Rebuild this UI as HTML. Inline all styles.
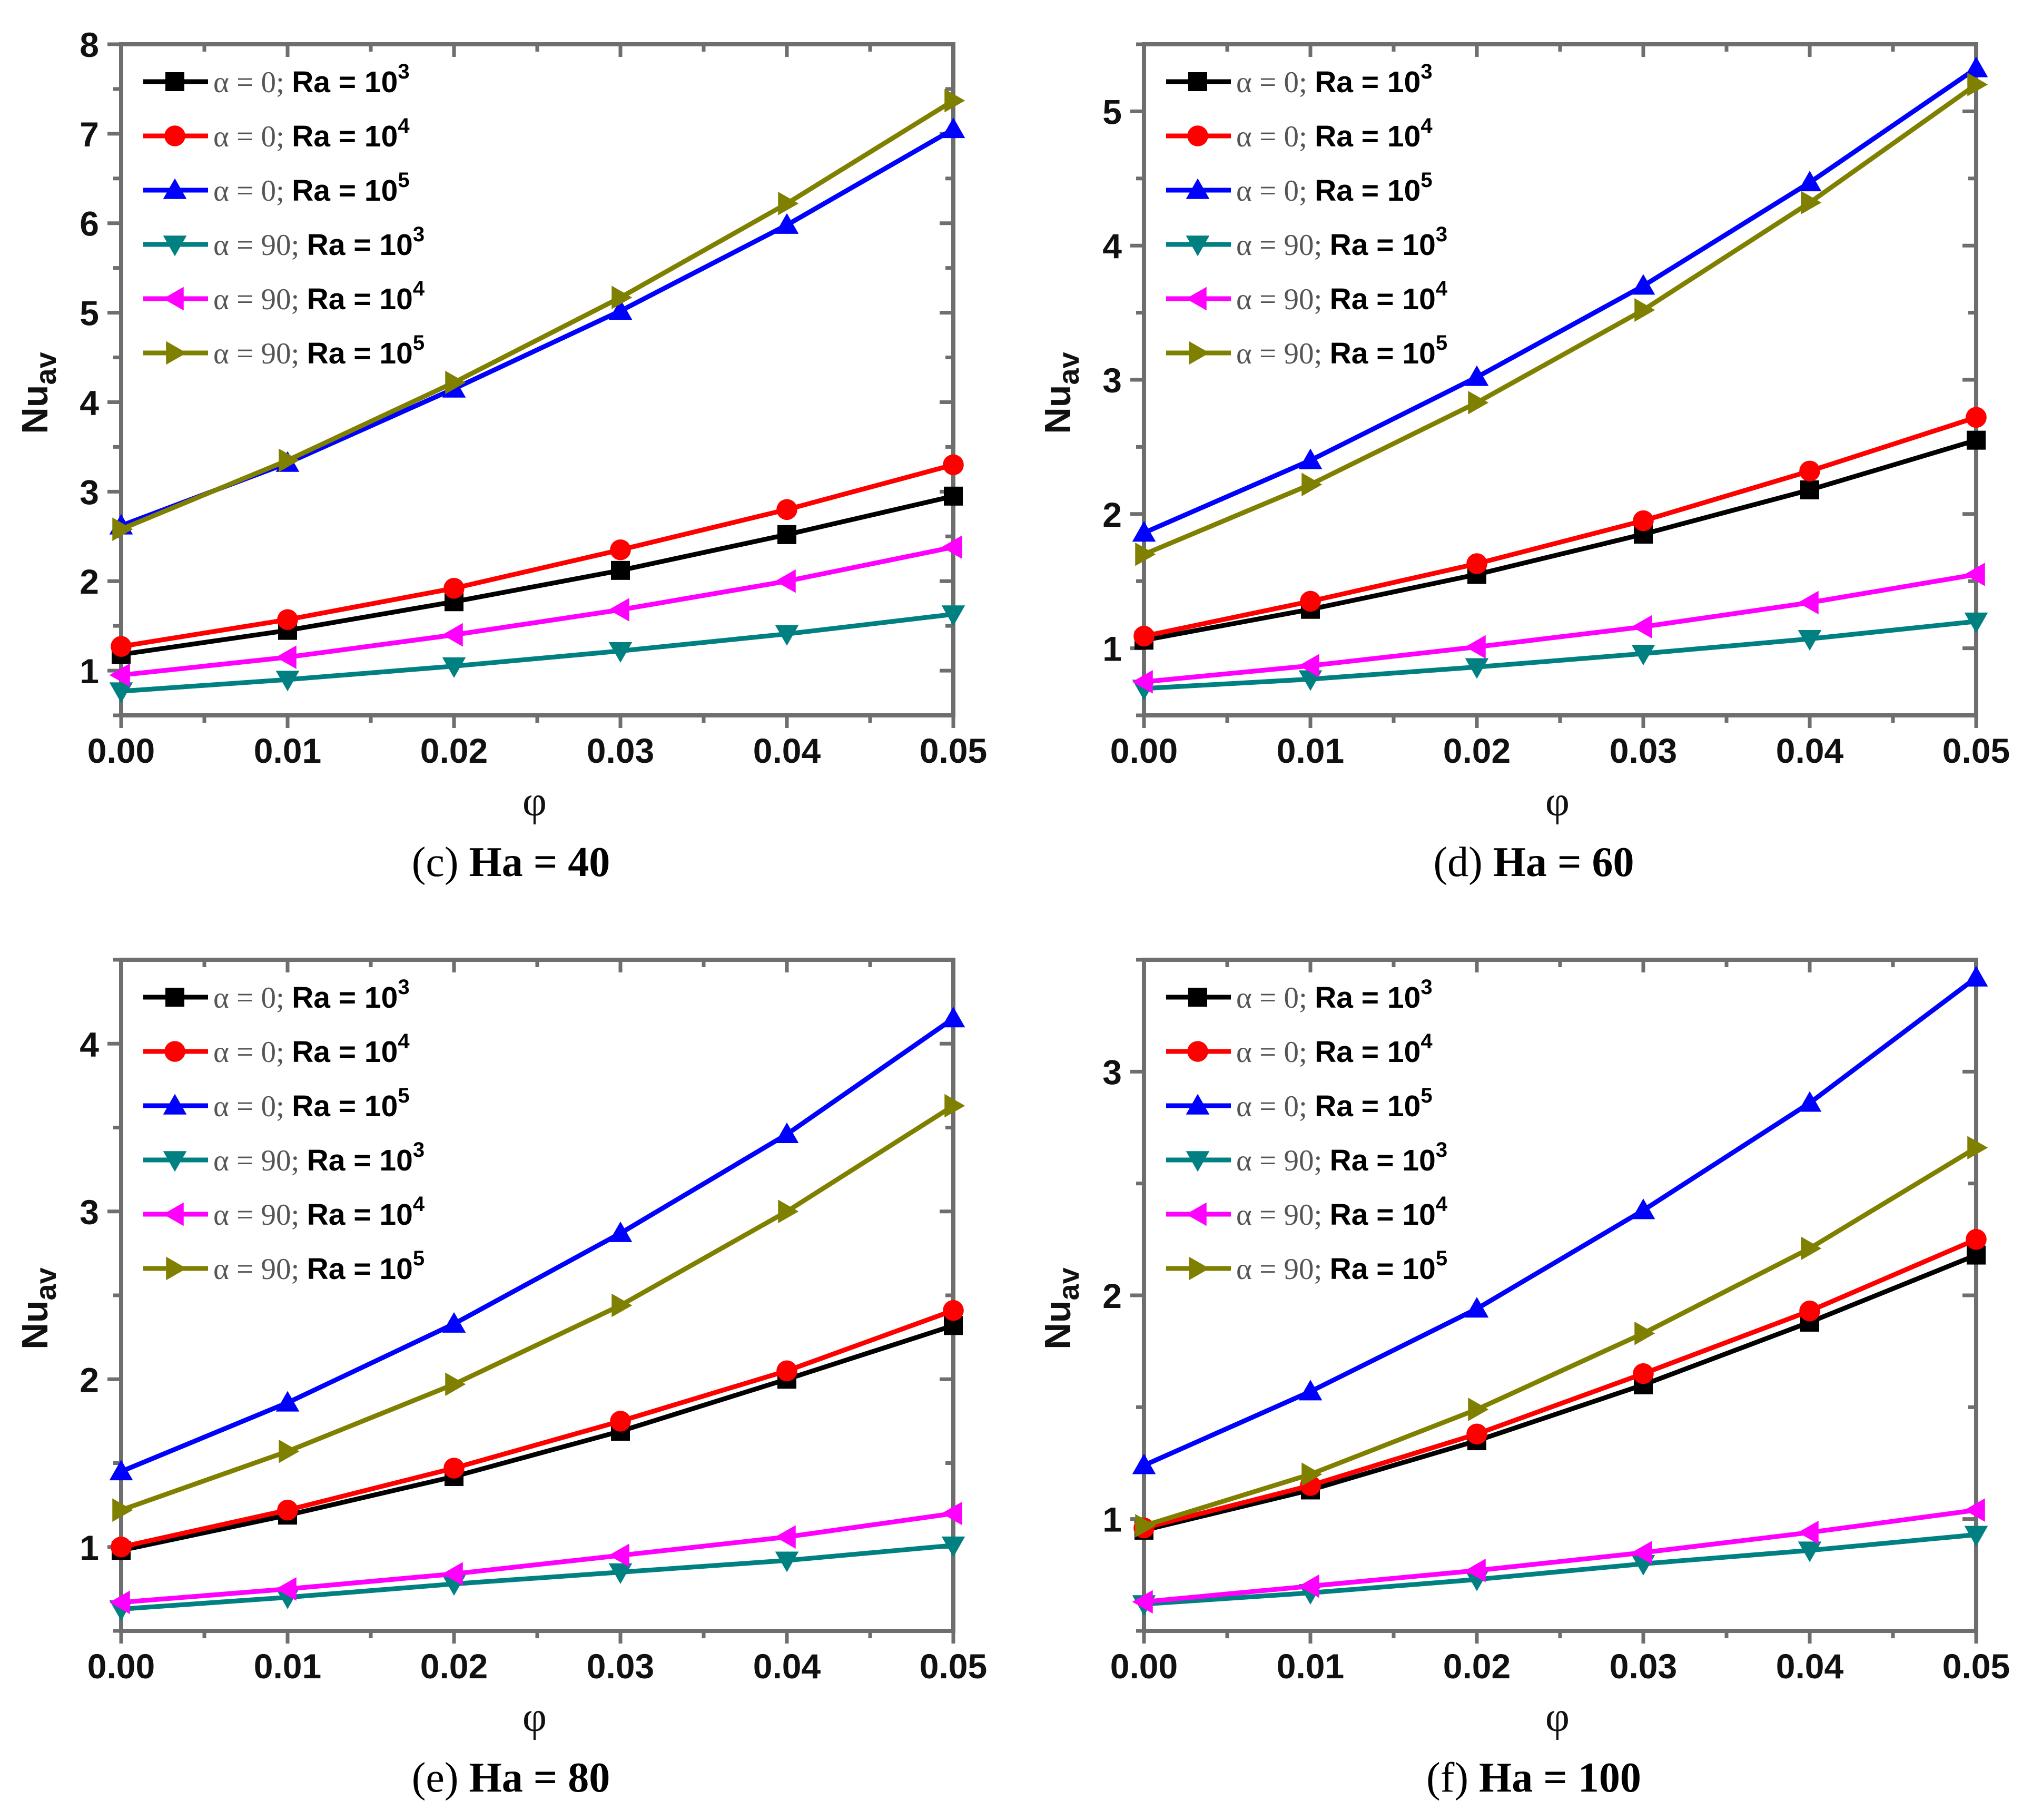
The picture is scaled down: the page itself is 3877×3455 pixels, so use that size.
<!DOCTYPE html>
<html><head><meta charset="utf-8">
<style>
html,body{margin:0;padding:0;background:#fff;}
svg{display:block;}
</style></head>
<body>
<svg id="fig" width="3877" height="3455" viewBox="0 0 3877 3455" xmlns="http://www.w3.org/2000/svg"></svg>
<script>
const xTicks = [0, 0.01, 0.02, 0.03, 0.04, 0.05];
const xTickLabels = ["0.00","0.01","0.02","0.03","0.04","0.05"];
const seriesNames = ["a0-ra3","a0-ra4","a0-ra5","a90-ra3","a90-ra4","a90-ra5"];
const legendAlpha = ["α = 0; ","α = 0; ","α = 0; ","α = 90; ","α = 90; ","α = 90; "];
const legendExp = ["3","4","5","3","4","5"];
const colors = ["#000000","#ff0000","#0000ff","#008080","#ff00ff","#808000"];
const markers = ["square","circle","up","down","left","right"];
const captionsLetter = ["(c)","(d)","(e)","(f)"];
const captionsHa = ["Ha = 40","Ha = 60","Ha = 80","Ha = 100"];
const yRanges = [[0.5,8],[0.5,5.5],[0.5,4.5],[0.5,3.5]];
const yTicksC = [1,2,3,4,5,6,7,8];
const yTicksD = [1,2,3,4,5];
const yTicksE = [1,2,3,4];
const yTicksF = [1,2,3];
// Ha = 40
const c_a0_ra3 = [1.18,1.45,1.77,2.12,2.52,2.95];
const c_a0_ra4 = [1.27,1.57,1.92,2.35,2.80,3.30];
const c_a0_ra5 = [2.62,3.32,4.15,5.02,5.98,7.05];
const c_a90_ra3 = [0.77,0.90,1.05,1.22,1.41,1.63];
const c_a90_ra4 = [0.95,1.15,1.40,1.68,2.00,2.38];
const c_a90_ra5 = [2.58,3.35,4.22,5.17,6.22,7.37];
// Ha = 60
const d_a0_ra3 = [1.06,1.29,1.55,1.85,2.18,2.55];
const d_a0_ra4 = [1.09,1.35,1.63,1.95,2.32,2.72];
const d_a0_ra5 = [1.86,2.40,3.02,3.70,4.47,5.32];
const d_a90_ra3 = [0.70,0.77,0.86,0.96,1.07,1.20];
const d_a90_ra4 = [0.75,0.87,1.01,1.16,1.34,1.55];
const d_a90_ra5 = [1.70,2.22,2.83,3.52,4.32,5.20];
// Ha = 80
const e_a0_ra3 = [0.98,1.19,1.42,1.69,2.00,2.32];
const e_a0_ra4 = [1.00,1.22,1.47,1.75,2.05,2.41];
const e_a0_ra5 = [1.45,1.86,2.33,2.87,3.46,4.15];
const e_a90_ra3 = [0.63,0.70,0.78,0.85,0.92,1.01];
const e_a90_ra4 = [0.67,0.75,0.84,0.95,1.06,1.20];
const e_a90_ra5 = [1.22,1.57,1.97,2.44,3.00,3.63];
// Ha = 100
const f_a0_ra3 = [0.95,1.13,1.35,1.60,1.88,2.18];
const f_a0_ra4 = [0.96,1.15,1.38,1.65,1.93,2.25];
const f_a0_ra5 = [1.24,1.57,1.94,2.38,2.86,3.42];
const f_a90_ra3 = [0.62,0.67,0.73,0.80,0.86,0.93];
const f_a90_ra4 = [0.63,0.70,0.77,0.85,0.94,1.04];
const f_a90_ra5 = [0.97,1.20,1.49,1.83,2.21,2.66];

const panelData = [
  [c_a0_ra3,c_a0_ra4,c_a0_ra5,c_a90_ra3,c_a90_ra4,c_a90_ra5],
  [d_a0_ra3,d_a0_ra4,d_a0_ra5,d_a90_ra3,d_a90_ra4,d_a90_ra5],
  [e_a0_ra3,e_a0_ra4,e_a0_ra5,e_a90_ra3,e_a90_ra4,e_a90_ra5],
  [f_a0_ra3,f_a0_ra4,f_a0_ra5,f_a90_ra3,f_a90_ra4,f_a90_ra5]
];
const panelYTicks = [yTicksC,yTicksD,yTicksE,yTicksF];

const NS = "http://www.w3.org/2000/svg";
const svg = document.getElementById("fig");
function mk(tag, attrs, parent){
  const e = document.createElementNS(NS, tag);
  for (const k in attrs) e.setAttribute(k, attrs[k]);
  (parent||svg).appendChild(e);
  return e;
}
function marker(g, type, cx, cy, col, s){
  let e;
  if (type==="square") e = mk("rect",{x:cx-s/2,y:cy-s/2,width:s,height:s,fill:col},g);
  else if (type==="circle") e = mk("circle",{cx:cx,cy:cy,r:s*0.55,fill:col},g);
  else {
    const h = s*0.62; let pts;
    if (type==="up") pts=[[cx,cy-h],[cx-h,cy+h*0.75],[cx+h,cy+h*0.75]];
    if (type==="down") pts=[[cx,cy+h],[cx-h,cy-h*0.75],[cx+h,cy-h*0.75]];
    if (type==="left") pts=[[cx-h,cy],[cx+h*0.75,cy-h],[cx+h*0.75,cy+h]];
    if (type==="right") pts=[[cx+h,cy],[cx-h*0.75,cy-h],[cx-h*0.75,cy+h]];
    e = mk("polygon",{points:pts.map(p=>p.join(",")).join(" "),fill:col},g);
  }
  return e;
}
const panelLetters = ["c","d","e","f"];
const lefts = [230,2172,230,2172];
const rights = [1810,3752,1810,3752];
const tops = [84,84,1822,1822];
const PH = 1274;

for (let p=0;p<4;p++){
  const L=lefts[p], R=rights[p], T=tops[p], B=T+PH;
  const [y0,y1]=yRanges[p];
  const sx = v => L + (v-xTicks[0])/(xTicks[xTicks.length-1]-xTicks[0])*(R-L);
  const sy = v => B - (v-y0)/(y1-y0)*(B-T);
  const g = mk("g",{});
  
  
  const axc="#6e6e6e";
  for (let i=0;i<xTicks.length;i++){
    const x=sx(xTicks[i]);
    const t = mk("line",{x1:x,y1:B,x2:x,y2:B+24,stroke:axc,"stroke-width":7},g);
    
    
    mk("line",{x1:x,y1:T,x2:x,y2:T+24,stroke:axc,"stroke-width":7},g);
    const lb = mk("text",{x:x,y:B+90,"text-anchor":"middle","font-family":"Liberation Sans, sans-serif","font-weight":"bold","font-size":66,fill:"#111"},g);
    lb.textContent = xTickLabels[i];
    
    
    if (i<xTicks.length-1){
      const xm = sx((xTicks[i]+xTicks[i+1])/2);
      mk("line",{x1:xm,y1:B,x2:xm,y2:B+14,stroke:axc,"stroke-width":7},g);
      mk("line",{x1:xm,y1:T,x2:xm,y2:T+14,stroke:axc,"stroke-width":7},g);
    }
  }
  const yt = panelYTicks[p];
  for (let v=y0; v<=y1+1e-9; v+=0.5){
    const y=sy(v);
    const major = yt.some(t=>Math.abs(t-v)<1e-6);
    const len = major?26:15;
    mk("line",{x1:L-len,y1:y,x2:L,y2:y,stroke:axc,"stroke-width":7},g);
    mk("line",{x1:R-len,y1:y,x2:R,y2:y,stroke:axc,"stroke-width":7},g);
  }
  for (const v of yt){
    const lb = mk("text",{x:L-42,y:sy(v)+24,"text-anchor":"end","font-family":"Liberation Sans, sans-serif","font-weight":"bold","font-size":66,fill:"#111"},g);
    lb.textContent = String(v);
    
    
  }
  const fr = mk("rect",{x:L,y:T,width:R-L,height:B-T,fill:"none",stroke:axc,"stroke-width":8},g);
  
  
  const data = panelData[p];
  for (let s=0;s<6;s++){
    const sg = mk("g",{},g);
    
    
    const pts = data[s].map((v,i)=>sx(xTicks[i])+","+sy(v)).join(" ");
    mk("polyline",{points:pts,fill:"none",stroke:colors[s],"stroke-width":9,"stroke-linejoin":"round"},sg);
    data[s].forEach((v,i)=>{
      const m = marker(sg, markers[s], sx(xTicks[i]), sy(v), colors[s], 36);
      
      
    });
  }
  const lg = mk("g",{},g);
  
  
  for (let s=0;s<6;s++){
    const y = T + 71 + s*103;
    const eg = mk("g",{},lg);
    
    
    mk("line",{x1:L+42,y1:y,x2:L+165,y2:y,stroke:colors[s],"stroke-width":9},eg);
    marker(eg, markers[s], L+102, y, colors[s], 36);
    const tx = mk("text",{x:L+175,y:y+20,"font-size":57,fill:"#000"},eg);
    const a = mk("tspan",{"font-family":"Liberation Serif, serif",fill:"#555"},tx);
    a.textContent = legendAlpha[s];
    const r = mk("tspan",{"font-family":"Liberation Sans, sans-serif","font-weight":"bold"},tx);
    r.textContent = "Ra = 10";
    const e = mk("tspan",{"font-family":"Liberation Sans, sans-serif","font-weight":"bold","font-size":40,dy:-26},tx);
    e.textContent = legendExp[s];
  }
  const yTitle = mk("text",{transform:"translate("+(L-140)+","+(T+662)+") rotate(-90)","text-anchor":"middle","font-family":"Liberation Sans, sans-serif","font-weight":"bold","font-size":70,fill:"#111"},g);
  const n1 = mk("tspan",{},yTitle); n1.textContent="Nu";
  const n2 = mk("tspan",{dy:16,"font-size":56},yTitle); n2.textContent="av";
  
  
  const xTitle = mk("text",{x:(L+R)/2-5,y:B+190,"text-anchor":"middle","font-family":"Liberation Serif, serif","font-size":80,fill:"#111"},g);
  xTitle.textContent = "φ";
  
  
  const cap = mk("text",{x:(L+R)/2-50,y:B+305,"text-anchor":"middle","font-family":"Liberation Serif, serif","font-size":80,fill:"#000"},g);
  const c1 = mk("tspan",{},cap); c1.textContent = captionsLetter[p]+" ";
  const c2 = mk("tspan",{"font-weight":"bold"},cap); c2.textContent = captionsHa[p];
  
  
}
</script>
</body></html>
